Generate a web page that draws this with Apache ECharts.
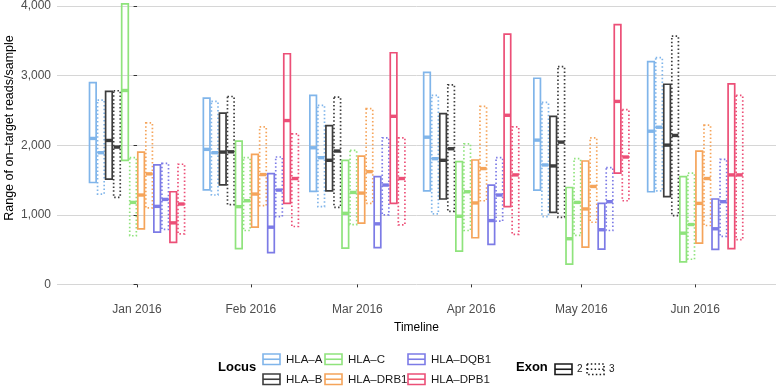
<!DOCTYPE html>
<html>
<head>
<meta charset="utf-8">
<script src="https://cdn.jsdelivr.net/npm/echarts@6/dist/echarts.min.js"></script>
<style>
  html, body { margin: 0; padding: 0; background: #fff; }
  #main { width: 776px; height: 390px; }
</style>
</head>
<body>
<div id="main"></div>
<script>
// months on the time axis, as days counted from 1 Jan 2016
let months = ['Jan 2016', 'Feb 2016', 'Mar 2016', 'Apr 2016', 'May 2016', 'Jun 2016'];
let monthDay = [0, 31, 60, 91, 121, 152];
let yTicks = [0, 1000, 2000, 3000, 4000];

let loci = ['HLA–A', 'HLA–B', 'HLA–C', 'HLA–DRB1', 'HLA–DQB1', 'HLA–DPB1'];
let exons = ['2', '3'];

// [low, median, high] per month, exon 2 and exon 3
let hlaA2 = [[1464, 2097, 2900], [1359, 1940, 2676], [1336, 1963, 2715], [1345, 2115, 3047], [1355, 2073, 2962], [1331, 2201, 3200]];
let hlaA3 = [[1298, 1892, 2648], [1284, 1892, 2629], [1117, 1820, 2572], [1013, 1806, 2715], [974, 1716, 2615], [1345, 2258, 3257]];
let hlaB2 = [[1512, 2068, 2772], [1431, 1901, 2462], [1345, 1783, 2282], [1227, 1783, 2454], [1036, 1702, 2415], [1260, 2001, 2876]];
let hlaB3 = [[1250, 1973, 2782], [1145, 1905, 2700], [1107, 1916, 2690], [1050, 1949, 2867], [964, 2044, 3128], [989, 2140, 3566]];
let hlaC2 = [[1783, 2786, 4031], [513, 1117, 2058], [522, 1021, 1783], [479, 979, 1763], [290, 656, 1392], [322, 736, 1549]];
let hlaC3 = [[699, 1178, 1820], [774, 1202, 1820], [860, 1321, 1926], [774, 1331, 2020], [703, 1178, 1806], [361, 860, 1598]];
let drb1_2 = [[799, 1284, 1901], [822, 1298, 1869], [879, 1312, 1844], [670, 1170, 1787], [536, 1084, 1773], [593, 1164, 1916]];
let drb1_3 = [[1098, 1588, 2320], [1131, 1578, 2263], [1164, 1620, 2525], [1202, 1664, 2558], [893, 1407, 2106], [846, 1521, 2287]];
let dqb1_2 = [[750, 1121, 1716], [456, 822, 1592], [528, 870, 1549], [575, 917, 1427], [508, 785, 1164], [504, 799, 1227]];
let dqb1_3 = [[789, 1221, 1740], [974, 1355, 1830], [999, 1427, 2106], [908, 1284, 1820], [774, 1188, 1678], [689, 1188, 1797]];
let dpb1_2 = [[603, 884, 1331], [1164, 2354, 3314], [1164, 2415, 3328], [1117, 2430, 3595], [1598, 2629, 3732], [513, 1573, 2882]];
let dpb1_3 = [[727, 1155, 1726], [832, 1521, 2163], [856, 1521, 2106], [718, 1573, 2263], [1202, 1830, 2511], [642, 1573, 2715]];

let ranges = [[hlaA2, hlaA3], [hlaB2, hlaB3], [hlaC2, hlaC3], [drb1_2, drb1_3], [dqb1_2, dqb1_3], [dpb1_2, dpb1_3]];

let colors = ['#80b5ea', '#3d3d3d', '#8fe37c', '#f5a45a', '#7c7be6', '#ec4f77'];
let DODGE = 2.19;   // days between neighbouring boxes
let BOX = 1.8;      // box width, days
let DOTS = [1.5, 2.3];

let chartDom = document.getElementById('main');
let myChart = echarts.init(chartDom);
let font = 'Liberation Sans';

function makeRender(k, color, dashed) {
  return function (params, api) {
    let x = api.value(0) + (k - 5.5) * DODGE;
    let top = api.coord([x, api.value(3)]);
    let bot = api.coord([x, api.value(1)]);
    let mid = api.coord([x, api.value(2)]);
    let w = api.size([BOX, 0])[0];
    return {
      type: 'group',
      children: [
        {
          type: 'rect',
          shape: { x: top[0] - w / 2, y: top[1], width: w, height: bot[1] - top[1] },
          style: { fill: 'none', stroke: color, lineWidth: 1.7, lineDash: dashed ? DOTS : null }
        },
        {
          type: 'line',
          shape: { x1: top[0] - w / 2, y1: mid[1], x2: top[0] + w / 2, y2: mid[1] },
          style: { stroke: color, lineWidth: 3.4 }
        }
      ]
    };
  };
}

let series = [];
loci.forEach(function (locus, li) {
  exons.forEach(function (exon, ei) {
    let rows = ranges[li][ei];
    series.push({
      name: locus + ' exon ' + exon,
      type: 'custom',
      renderItem: makeRender(li * 2 + ei, colors[li], ei === 1),
      data: rows.map(function (r, i) { return [monthDay[i], r[0], r[1], r[2]]; }),
      silent: true
    });
  });
});

// legend drawn as graphic
let legend = [];
legend.push({ type: 'text', left: 218, top: 361, style: { text: 'Locus', font: 'bold 13px ' + font, fill: '#000' } });
let colX = [263, 325, 408];
let rowY = [354, 374];
loci.forEach(function (locus, li) {
  let cx = colX[Math.floor(li / 2)];
  let cy = rowY[li % 2];
  legend.push({ type: 'rect', shape: { x: cx, y: cy, width: 17, height: 10.5 }, style: { fill: 'none', stroke: colors[li], lineWidth: 1.6 } });
  legend.push({ type: 'line', shape: { x1: cx, y1: cy + 5.25, x2: cx + 17, y2: cy + 5.25 }, style: { stroke: colors[li], lineWidth: 1.6 } });
  legend.push({ type: 'text', x: cx + 23, y: cy + 5.5, style: { text: locus, font: '11.5px ' + font, fill: '#1a1a1a', verticalAlign: 'middle' } });
});
legend.push({ type: 'text', left: 516, top: 361, style: { text: 'Exon', font: 'bold 13px ' + font, fill: '#000' } });
exons.forEach(function (exon, ei) {
  let cx = 555 + ei * 32;
  let cy = 364;
  legend.push({ type: 'rect', shape: { x: cx, y: cy, width: 17, height: 10.5 }, style: { fill: 'none', stroke: '#1a1a1a', lineWidth: 1.6, lineDash: ei === 1 ? DOTS : null } });
  legend.push({ type: 'line', shape: { x1: cx, y1: cy + 5.25, x2: cx + 17, y2: cy + 5.25 }, style: { stroke: '#1a1a1a', lineWidth: 1.6, lineDash: ei === 1 ? DOTS : null } });
  legend.push({ type: 'text', x: cx + 22, y: cy + 5.5, style: { text: exon, font: '10px ' + font, fill: '#1a1a1a', verticalAlign: 'middle' } });
});
legend.push({
  type: 'text', x: 10, y: 128, rotation: Math.PI / 2,
  style: { text: 'Range of on–target reads/sample', font: '12.5px ' + font, fill: '#000', align: 'center', verticalAlign: 'middle' }
});

let option = {
  animation: false,
  backgroundColor: '#fff',
  grid: { left: 57, right: 0, top: 0, bottom: 91 },
  xAxis: {
    type: 'value',
    min: -21.8,
    max: 174,
    name: 'Timeline',
    nameLocation: 'middle',
    nameGap: 23,
    nameTextStyle: { fontFamily: font, fontSize: 12, color: '#000' },
    axisLine: { show: false },
    axisTick: { show: true, length: 3, customValues: monthDay, lineStyle: { color: '#333', width: 1 } },
    axisLabel: {
      customValues: monthDay,
      margin: 5,
      fontFamily: font, fontSize: 12, color: '#4d4d4d',
      formatter: function (v) { return months[monthDay.indexOf(v)]; }
    },
    splitLine: { show: false }
  },
  yAxis: {
    type: 'value',
    min: -210,
    max: 4057,
    axisLine: { show: false },
    axisTick: { show: true, length: 3.5, customValues: yTicks, lineStyle: { color: '#333', width: 1 } },
    axisLabel: {
      customValues: yTicks,
      margin: 6,
      fontFamily: font, fontSize: 12, color: '#4d4d4d',
      formatter: function (v) { return String(v).replace(/\B(?=(\d{3})+(?!\d))/g, ','); }
    },
    splitLine: { show: true, lineStyle: { color: '#d6d6d6', width: 1 } }
  },
  graphic: legend,
  series: series
};

myChart.setOption(option);
</script>
</body>
</html>
